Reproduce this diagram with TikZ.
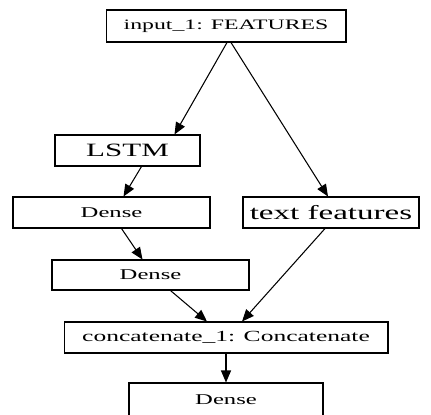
\documentclass[tikz,border=0pt]{standalone}
\usepackage{fontspec}
\usetikzlibrary{positioning, calc, arrows.meta}
\newfontfamily\widerm[FakeStretch=1.65]{Liberation Serif}
\newcommand{\fsz}[1]{\widerm\fontsize{#1}{#1}\selectfont}

\begin{document}
\begin{tikzpicture}[
		x=0.02cm, y=-0.02cm,
		>={Triangle[length=2.4mm, width=2mm]},
		layer/.style={draw, rectangle, line width=0.6pt, inner sep=0pt, minimum height=6.2mm, align=center},
		link/.style={->, line width=0.6pt},
	]
	\useasboundingbox (0,0) rectangle (431,414);
	\clip (0,0) rectangle (431,414);
	\node[layer, minimum width=48mm, minimum height=6.4mm, font=\fsz{8.2}] (input) at (226, 26) {input\_1: FEATURES};
	\node[layer, minimum width=29mm, font=\fsz{10.7}] (lstm) at (127.5, 150.5) {LSTM};
	\node[layer, minimum width=39.4mm, font=\fsz{8.5}] (dense_a) at (111.5, 212.5) {Dense};
	\node[layer, minimum width=35.2mm, font=\fsz{11.4}] (text_feat) at (331, 212.5) {text features};
	\node[layer, minimum width=39.4mm, minimum height=6mm, font=\fsz{8.5}] (dense_b) at (150.5, 275) {Dense};
	\node[layer, minimum width=64.8mm, font=\fsz{8.8}] (concat) at (226, 337.5) {concatenate\_1: Concatenate};
	\node[layer, minimum width=38.8mm, minimum height=6.8mm, font=\fsz{8.5}] (dense_c) at (226, 400) {Dense};

	\draw[link] ($(input.south)+(1,0)$) -- ($(lstm.north)+(47,0)$);
	\draw[link] ($(input.south)+(5,0)$) -- ($(text_feat.north)+(-3,0)$);
	\draw[link] ($(lstm.south)+(14,0)$) -- ($(dense_a.north)+(12,0)$);
	\draw[link] ($(dense_a.south)+(10,0)$) -- ($(dense_b.north)+(-8,0)$);
	\draw[link] ($(dense_b.south)+(20,0)$) -- ($(concat.north)+(-19,0)$);
	\draw[link] ($(text_feat.south)+(-6,0)$) -- ($(concat.north)+(16,0)$);
	\draw[link] (concat) -- (dense_c);
\end{tikzpicture}
\end{document}
